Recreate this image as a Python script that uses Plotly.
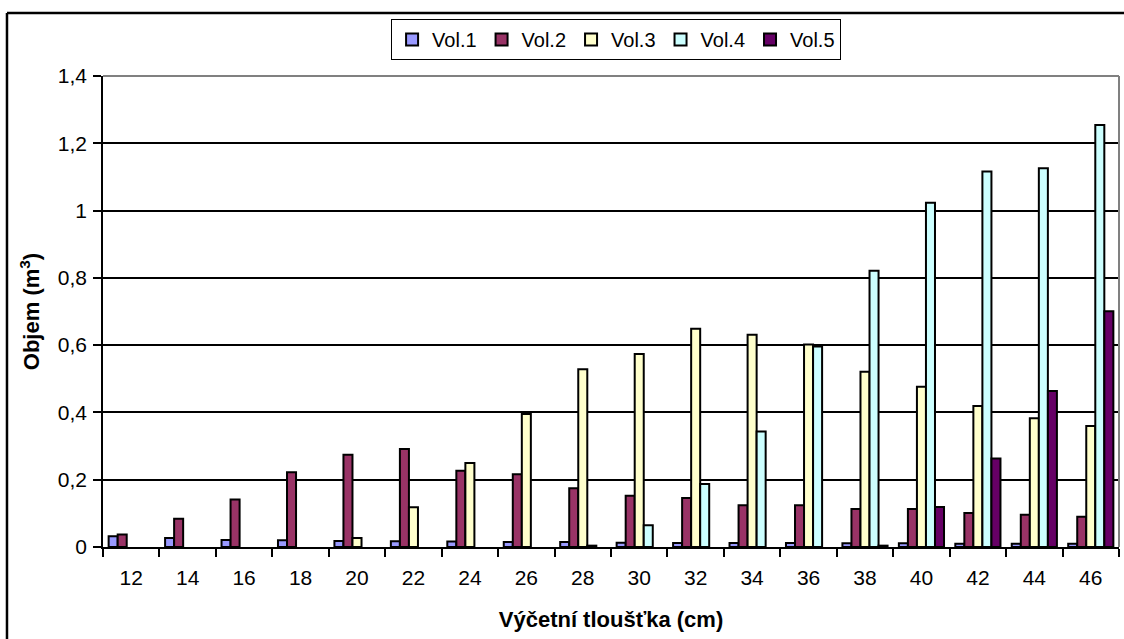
import plotly.graph_objects as go

categories = ["12", "14", "16", "18", "20", "22", "24", "26", "28", "30",
              "32", "34", "36", "38", "40", "42", "44", "46"]
vol1 = [0.032, 0.027, 0.021, 0.020, 0.018, 0.017, 0.016, 0.015, 0.015, 0.013,
        0.012, 0.012, 0.012, 0.011, 0.011, 0.010, 0.010, 0.010]
vol2 = [0.037, 0.084, 0.141, 0.222, 0.274, 0.291, 0.227, 0.216, 0.175, 0.152,
        0.146, 0.124, 0.124, 0.113, 0.113, 0.101, 0.096, 0.090]
vol3 = [None, None, None, None, 0.027, 0.118, 0.250, 0.395, 0.528, 0.574,
        0.649, 0.631, 0.602, 0.521, 0.476, 0.419, 0.383, 0.360]
vol4 = [None, None, None, None, None, None, None, None, 0.004, 0.065,
        0.187, 0.343, 0.596, 0.821, 1.023, 1.116, 1.126, 1.254]
vol5 = [None, None, None, None, None, None, None, None, None, None,
        None, None, None, 0.004, 0.119, 0.263, 0.464, 0.701]
series_names = ["Vol.1", "Vol.2", "Vol.3", "Vol.4", "Vol.5"]
series_values = [vol1, vol2, vol3, vol4, vol5]
colors = ["#9999FF", "#993366", "#FFFFCC", "#CCFFFF", "#660066"]

FONT = "Liberation Sans, Arial, sans-serif"

fig = go.Figure()
for name, vals, col in zip(series_names, series_values, colors):
    fig.add_trace(go.Bar(
        x=categories, y=vals, name=name,
        marker=dict(color=col, line=dict(color="black", width=2)),
    ))

fig.update_layout(
    width=1124, height=639,
    margin=dict(l=103, r=5, t=76, b=92, autoexpand=False),
    paper_bgcolor="white", plot_bgcolor="white",
    separators=", ",
    barmode="group", bargap=0.2, bargroupgap=0,
    font=dict(family=FONT, color="black", size=21),
    legend=dict(
        orientation="h", x=0.505, xanchor="center", y=1.121, yanchor="top",
        bordercolor="black", borderwidth=1, bgcolor="white",
        font=dict(family=FONT, size=20, color="black"),
        itemwidth=30, itemsizing="constant", tracegroupgap=0,
    ),
    xaxis=dict(
        type="category", tickson="boundaries", ticks="outside", ticklen=8,
        tickcolor="black", tickwidth=1.5, showline=True, linecolor="black",
        linewidth=1.5, showgrid=False, ticklabelstandoff=11,
        tickfont=dict(family=FONT, size=21, color="black"),
        title=dict(text="<b>Výčetní tloušťka (cm)</b>", standoff=24,
                   font=dict(family=FONT, size=22, color="black")),
    ),
    yaxis=dict(
        range=[0, 1.4], dtick=0.2, tick0=0, ticks="outside", ticklen=8,
        tickcolor="black", tickwidth=1.5, showline=True, linecolor="black",
        linewidth=1.5, showgrid=True, gridcolor="black", gridwidth=1.5,
        zeroline=False, ticklabelstandoff=2,
        tickfont=dict(family=FONT, size=21, color="black"),
        title=dict(text="<b>Objem (m<sup>3</sup>)</b>", standoff=12,
                   font=dict(family=FONT, size=22, color="black")),
    ),
    shapes=[
        # plot-area border (grey top and right)
        dict(type="line", xref="paper", yref="paper", x0=0, x1=1, y0=1, y1=1,
             line=dict(color="#808080", width=2), layer="above"),
        dict(type="line", xref="paper", yref="paper", x0=1, x1=1, y0=0, y1=1,
             line=dict(color="#808080", width=2), layer="above"),
        # outer chart border (left and top visible)
        dict(type="line", xref="paper", yref="paper", x0=-0.0945, x1=-0.0945,
             y0=-0.3, y1=1.134, line=dict(color="black", width=2.5)),
        dict(type="line", xref="paper", yref="paper", x0=-0.0945, x1=1.1,
             y0=1.134, y1=1.134, line=dict(color="black", width=2.5)),
    ],
)

fig.write_html("out.html")
